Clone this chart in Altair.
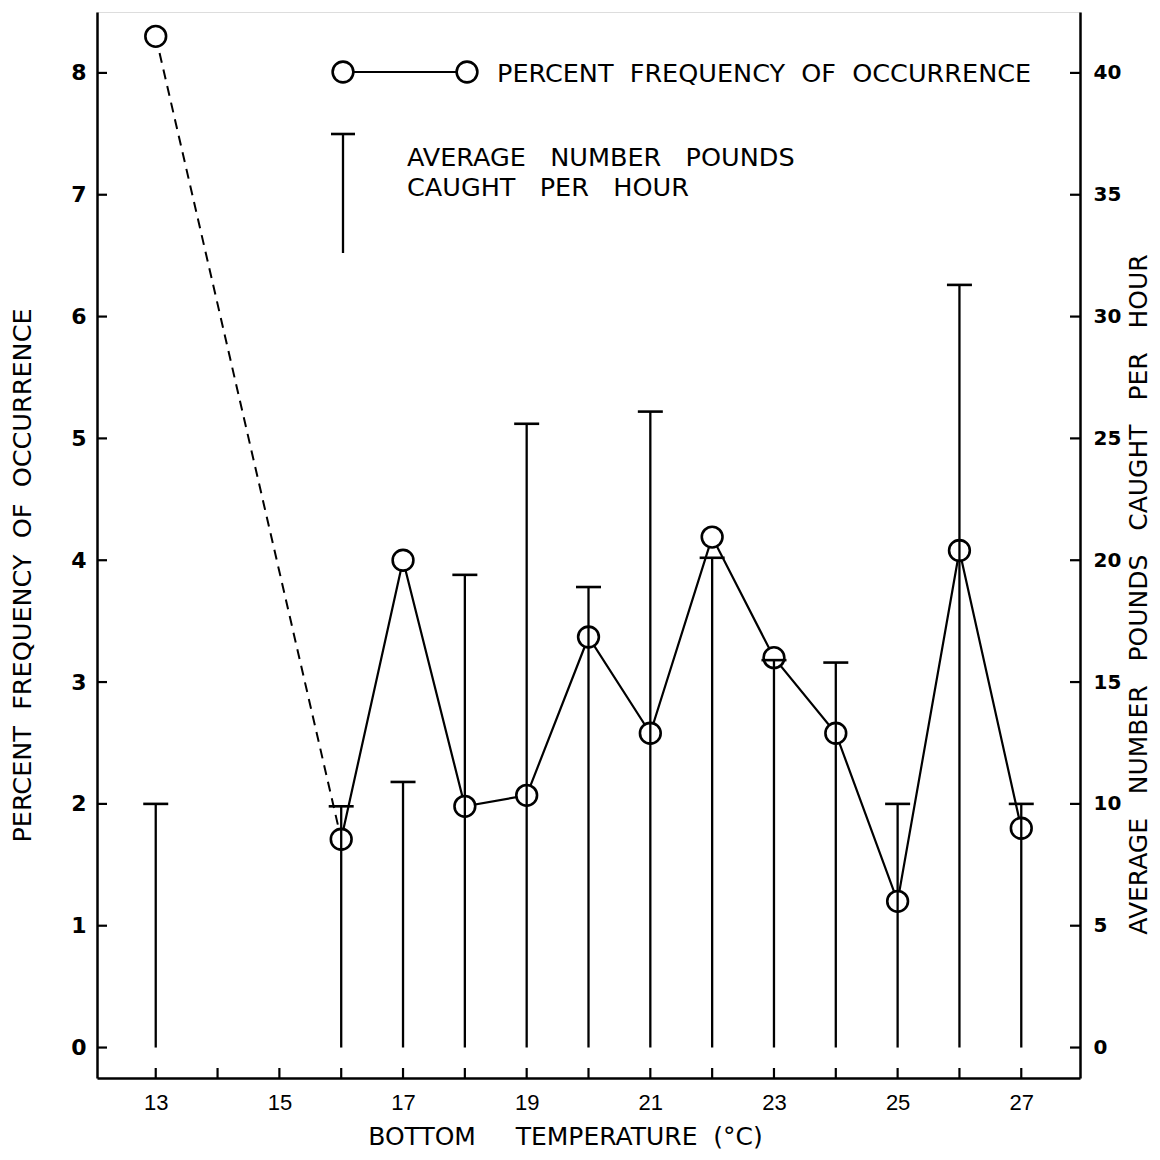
import altair as alt
import pandas as pd

# ---- data ----
temps = [13, 16, 17, 18, 19, 20, 21, 22, 23, 24, 25, 26, 27]
pct_freq = [8.3, 1.71, 4.0, 1.98, 2.07, 3.37, 2.58, 4.19, 3.2, 2.58, 1.2, 4.08, 1.8]
avg_lbs = [10.0, 9.9, 10.9, 19.4, 25.6, 18.9, 26.1, 20.1, 15.9, 15.8, 10.0, 31.3, 10.0]

x_tick_values = list(range(13, 28))
x_label_values = [13, 15, 17, 19, 21, 23, 25, 27]
left_tick_values = [0, 1, 2, 3, 4, 5, 6, 7, 8]
right_tick_values = [0, 5, 10, 15, 20, 25, 30, 35, 40]


def spaced(words, n):
    return ("\u00a0" * n).join(words)


legend_line_text = spaced(["PERCENT", "FREQUENCY", "OF", "OCCURRENCE"], 2)
legend_bar_text = [spaced(["AVERAGE", "NUMBER", "POUNDS"], 3),
                   spaced(["CAUGHT", "PER", "HOUR"], 3)]
x_title = "BOTTOM" + "\u00a0" * 5 + "TEMPERATURE" + "\u00a0" * 2 + "(°C)"
left_title = spaced(["PERCENT", "FREQUENCY", "OF", "OCCURRENCE"], 2)
right_title = spaced(["AVERAGE", "NUMBER", "POUNDS", "CAUGHT", "PER", "HOUR"], 3)

W, H = 983, 1066
X_DOMAIN = [12.05, 27.95]
Y_LEFT = [-0.25, 8.5]
Y_RIGHT = [-1.25, 42.5]
FONT = "DejaVu Sans"
NUMFONT = "Liberation Sans"
TS = 25.5

df = pd.DataFrame({"temp": temps, "pct": pct_freq, "lbs": avg_lbs})
solid_df = df[df.temp >= 16]
dash_df = df[df.temp <= 16]

xs = alt.Scale(domain=X_DOMAIN, nice=False, zero=False)
ysl = alt.Scale(domain=Y_LEFT, nice=False, zero=False)
ysr = alt.Scale(domain=Y_RIGHT, nice=False, zero=False)

x_axis = alt.Axis(values=x_label_values, format="d", tickSize=0, labelPadding=14,
                  labelFontSize=22, labelFont=NUMFONT, title=x_title, titleFontSize=25,
                  titleFont=FONT, titleFontWeight="normal", titleX=468, titleY=66,
                  titleBaseline="alphabetic", titleAlign="center", grid=False,
                  domainColor="black", domainWidth=2.5, labelColor="black", titleColor="black")
left_axis = alt.Axis(orient="left", values=left_tick_values, format="d", tickSize=0,
                     labelPadding=11, labelFontSize=22, labelFont=FONT, labelFontWeight="bold",
                     title=left_title, titleFontSize=TS, titleFont=FONT,
                     titleFontWeight="normal", titleAngle=270, titleX=-75, titleY=563,
                     titleBaseline="middle", titleAlign="center", grid=False,
                     domainColor="black", domainWidth=2.5, labelColor="black", titleColor="black")
right_axis = alt.Axis(orient="right", values=right_tick_values, format="d", tickSize=0,
                      labelPadding=13, labelFontSize=20, labelFont=FONT, labelFontWeight="bold",
                      title=right_title, titleFontSize=25, titleFont=FONT,
                      titleFontWeight="normal", titleAngle=270, titleX=58, titleY=582,
                      titleBaseline="middle", titleAlign="center", grid=False,
                      domainColor="black", domainWidth=2.5, labelColor="black", titleColor="black")

# ---- left (percent) layer ----
dashed = alt.Chart(dash_df).mark_line(color="black", strokeWidth=2, strokeDash=[10, 7]).encode(
    x=alt.X("temp:Q", scale=xs, axis=x_axis),
    y=alt.Y("pct:Q", scale=ysl, axis=left_axis),
)
solid = alt.Chart(solid_df).mark_line(color="black", strokeWidth=2.2).encode(
    x=alt.X("temp:Q", scale=xs),
    y=alt.Y("pct:Q", scale=ysl),
)
circles = alt.Chart(df).mark_point(shape="circle", size=430, filled=False, fill="white",
                                   fillOpacity=1, stroke="black", strokeWidth=2.6,
                                   opacity=1).encode(
    x=alt.X("temp:Q", scale=xs),
    y=alt.Y("pct:Q", scale=ysl),
)
left_ticks = alt.Chart(pd.DataFrame({"v": left_tick_values})).mark_rule(
    color="black", strokeWidth=2.2).encode(
    y=alt.Y("v:Q", scale=ysl), x=alt.value(0), x2=alt.value(10))
x_ticks = alt.Chart(pd.DataFrame({"t": x_tick_values})).mark_rule(
    color="black", strokeWidth=2.2).encode(
    x=alt.X("t:Q", scale=xs), y=alt.value(H), y2=alt.value(H - 10))

left_layer = alt.layer(dashed, solid, circles, left_ticks, x_ticks)

# ---- right (pounds) layer ----
bars = alt.Chart(df).mark_rule(color="black", strokeWidth=2.3).encode(
    x=alt.X("temp:Q", scale=xs),
    y=alt.Y("lbs:Q", scale=ysr, axis=right_axis),
    y2=alt.datum(0),
)
caps = alt.Chart(df).mark_tick(orient="horizontal", size=25, thickness=2.6, color="black",
                               opacity=1).encode(
    x=alt.X("temp:Q", scale=xs),
    y=alt.Y("lbs:Q", scale=ysr),
)
right_ticks = alt.Chart(pd.DataFrame({"v": right_tick_values})).mark_rule(
    color="black", strokeWidth=2.2).encode(
    y=alt.Y("v:Q", scale=ysr), x=alt.value(W - 10), x2=alt.value(W))

# ---- legend (annotation, in pixel space) ----
one = pd.DataFrame({"a": [0]})
leg_line = alt.Chart(one).mark_rule(color="black", strokeWidth=2).encode(
    x=alt.value(246), x2=alt.value(370), y=alt.value(60))
leg_circles = alt.Chart(pd.DataFrame({"px": [246, 370]})).mark_point(
    shape="circle", size=430, filled=False, fill="white", fillOpacity=1, stroke="black",
    strokeWidth=2.6, opacity=1).encode(
    x=alt.X("px:Q", scale=None), y=alt.value(60))
leg_text1 = alt.Chart(one).mark_text(align="left", baseline="middle", fontSize=TS,
                                     font=FONT, color="black").encode(
    x=alt.value(400), y=alt.value(61.5), text=alt.value(legend_line_text))
leg_bar = alt.Chart(one).mark_rule(color="black", strokeWidth=2.3).encode(
    x=alt.value(246), y=alt.value(122), y2=alt.value(241))
leg_cap = alt.Chart(one).mark_rule(color="black", strokeWidth=2.6).encode(
    x=alt.value(234), x2=alt.value(258), y=alt.value(122))
leg_text2 = alt.Chart(pd.DataFrame({"line": legend_bar_text, "py": [146, 175.5]})).mark_text(
    align="left", baseline="middle", fontSize=TS, font=FONT, color="black").encode(
    x=alt.value(310), y=alt.Y("py:Q", scale=None), text="line:N")

right_layer = alt.layer(bars, caps, right_ticks, leg_line, leg_circles, leg_text1,
                        leg_bar, leg_cap, leg_text2)

chart = alt.layer(left_layer, right_layer).resolve_scale(y="independent").properties(
    width=W, height=H,
    autosize=alt.AutoSizeParams(type="none"),
    padding={"left": 89, "top": 4, "right": 72, "bottom": 74},
).configure_view(stroke=None).configure(background="white")

chart.save("out.html", embed_options={"renderer": "svg", "actions": False})
